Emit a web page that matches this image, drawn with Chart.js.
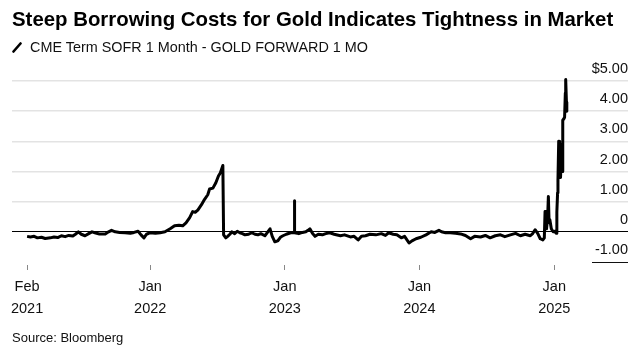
<!DOCTYPE html>
<html>
<head>
<meta charset="utf-8">
<script src="https://cdn.jsdelivr.net/npm/chart.js@4.4.1/dist/chart.umd.min.js"></script>
<style>
  html, body { margin: 0; padding: 0; background: #fff; }
  #wrap { position: relative; width: 644px; height: 362px; overflow: hidden; background: #fff; }
  #title { position: absolute; left: 12px; top: 9px; font: bold 20.4px "Liberation Sans", Arial, sans-serif; line-height: 20px; color: #000; white-space: nowrap; }
  #legend { position: absolute; left: 12px; top: 40px; font: 14.4px "Liberation Sans", Arial, sans-serif; line-height: 14px; color: #111; white-space: nowrap; }
  #legend svg { vertical-align: -1px; margin-right: 8px; }
  #source { position: absolute; left: 12px; top: 331px; font: 13px "Liberation Sans", Arial, sans-serif; line-height: 13px; color: #111; white-space: nowrap; }
  canvas { position: absolute; left: 0; top: 0; }
</style>
</head>
<body>
<div id="wrap">
  <canvas id="c" width="644" height="362"></canvas>
  <div id="title">Steep Borrowing Costs for Gold Indicates Tightness in Market</div>
  <div id="legend"><svg width="10" height="11" viewBox="0 0 10 11"><line x1="1.5" y1="9.5" x2="8.5" y2="1.5" stroke="#000" stroke-width="2.6" stroke-linecap="round"/></svg>CME Term SOFR 1 Month - GOLD FORWARD 1 MO</div>
  <div id="source">Source: Bloomberg</div>
</div>
<script>
// ---- data ----
const dates = [
  "2021-02-01","2021-02-10","2021-02-20","2021-03-01","2021-03-12","2021-03-22","2021-04-05","2021-04-15","2021-04-25",
  "2021-05-05","2021-05-15","2021-05-25","2021-06-05","2021-06-12","2021-06-20","2021-06-28","2021-07-08","2021-07-18",
  "2021-07-27","2021-08-06","2021-08-16","2021-09-01","2021-09-10","2021-09-18","2021-09-28","2021-10-10","2021-10-25",
  "2021-11-08","2021-11-18","2021-11-29","2021-12-07","2021-12-15","2021-12-22","2022-01-01","2022-01-15","2022-01-28",
  "2022-02-10","2022-02-24","2022-03-08","2022-03-20","2022-03-30","2022-04-08","2022-04-18","2022-04-26","2022-05-03",
  "2022-05-10","2022-05-20","2022-05-28","2022-06-06","2022-06-11","2022-06-20","2022-06-28","2022-07-05","2022-07-10",
  "2022-07-17","2022-07-19","2022-07-25","2022-07-30","2022-08-05","2022-08-10","2022-08-18","2022-08-25","2022-09-01",
  "2022-09-08","2022-09-15","2022-09-25","2022-10-03","2022-10-12","2022-10-20","2022-10-28","2022-11-08","2022-11-15",
  "2022-11-22","2022-11-28","2022-12-05","2022-12-13","2022-12-20","2022-12-27","2023-01-05","2023-01-17","2023-01-26",
  "2023-01-27","2023-01-28","2023-02-08","2023-02-18","2023-02-27","2023-03-05","2023-03-10","2023-03-17","2023-03-24",
  "2023-04-02","2023-04-13","2023-04-22","2023-05-03","2023-05-15","2023-06-01","2023-06-12","2023-06-28","2023-07-08",
  "2023-07-19","2023-07-28","2023-08-08","2023-08-20","2023-09-05","2023-09-20","2023-10-01","2023-10-10","2023-10-22",
  "2023-11-01","2023-11-13","2023-11-22","2023-12-04","2023-12-12","2023-12-23","2024-01-05","2024-01-19","2024-02-02",
  "2024-02-12","2024-02-23","2024-03-01","2024-03-12","2024-03-25","2024-04-08","2024-04-22","2024-05-05","2024-05-19",
  "2024-05-30","2024-06-15","2024-06-28","2024-07-11","2024-07-25","2024-08-08","2024-08-20","2024-09-04","2024-09-18",
  "2024-10-01","2024-10-14","2024-10-28","2024-11-04","2024-11-10","2024-11-17","2024-11-24","2024-12-01","2024-12-05",
  "2024-12-07","2024-12-09","2024-12-11","2024-12-14","2024-12-16","2024-12-18","2024-12-20","2024-12-24","2024-12-29",
  "2025-01-03","2025-01-06","2025-01-08","2025-01-10","2025-01-11","2025-01-13","2025-01-14","2025-01-15","2025-01-16",
  "2025-01-17","2025-01-18","2025-01-21","2025-01-22","2025-01-24","2025-01-27","2025-01-29","2025-01-31","2025-02-01",
  "2025-02-03","2025-02-04"
];
const spread = [
  -0.15,-0.17,-0.15,-0.20,-0.18,-0.22,-0.20,-0.17,-0.19,
  -0.13,-0.16,-0.12,-0.14,-0.08, 0.00,-0.08,-0.13,-0.06,
   0.00,-0.04,-0.07,-0.07, 0.00, 0.05, 0.00,-0.02,-0.03,
  -0.05,-0.02, 0.02,-0.10,-0.20,-0.08,-0.03,-0.05,-0.03,
   0.00, 0.10, 0.20, 0.22, 0.20, 0.30, 0.47, 0.67, 0.65,
   0.72, 0.90, 1.07, 1.23, 1.42, 1.45, 1.63, 1.85, 1.95,
   2.20,-0.10,-0.20,-0.15,-0.08, 0.00,-0.06, 0.02,-0.03,
  -0.06,-0.10,-0.08,-0.03,-0.08,-0.10,-0.06,-0.13,-0.02,
   0.10,-0.15,-0.33,-0.30,-0.18,-0.13,-0.08,-0.03,-0.03,
   1.03,-0.03,-0.06,-0.02, 0.00, 0.05, 0.10,-0.05,-0.15,
  -0.08,-0.10,-0.06,-0.03,-0.08,-0.13,-0.10,-0.17,-0.15,
  -0.27,-0.15,-0.13,-0.08,-0.10,-0.06,-0.12,-0.03,-0.08,
  -0.10,-0.20,-0.15,-0.37,-0.30,-0.23,-0.18,-0.10, 0.00,
  -0.02, 0.05, 0.00,-0.03,-0.03,-0.05,-0.07,-0.12,-0.23,
  -0.15,-0.17,-0.12,-0.20,-0.13,-0.10,-0.16,-0.10,-0.05,
  -0.13,-0.08,-0.13,-0.05, 0.07,-0.05,-0.23,-0.27,-0.20,
   0.67, 0.35, 0.10, 0.50, 1.17, 0.30, 0.40, 0.10, 0.00,
   0.02,-0.05, 0.65, 1.30, 1.70, 3.00, 2.60, 3.00, 2.20,
   2.90, 1.80, 2.90, 2.00, 3.70, 3.75, 3.80, 4.60, 5.05,
   4.30, 4.00
];
const xTickDates  = ["2021-02-01","2022-01-01","2023-01-01","2024-01-01","2025-01-01"];
const xTickMonths = ["Feb","Jan","Jan","Jan","Jan"];
const xTickYears  = ["2021","2022","2023","2024","2025"];
const yTickValues = [-1, 0, 1, 2, 3, 4, 5];
const yTickLabels = ["-1.00","0","1.00","2.00","3.00","4.00","$5.00"];

// ---- chart ----
const points = dates.map((d, i) => ({ x: Date.parse(d), y: spread[i] }));
const FONT = '"Liberation Sans", Arial, sans-serif';

const bottomRule = {
  id: 'bottomRule',
  afterDraw(chart) {
    const ctx = chart.ctx, y = chart.scales.y, area = chart.chartArea;
    const py = Math.round(y.getPixelForValue(-1)) + 0.5;
    ctx.save();
    ctx.strokeStyle = '#111';
    ctx.lineWidth = 1;
    ctx.beginPath();
    ctx.moveTo(area.right - 36, py);
    ctx.lineTo(area.right, py);
    ctx.stroke();
    ctx.restore();
  }
};

new Chart(document.getElementById('c'), {
  type: 'line',
  data: {
    datasets: [{
      label: 'CME Term SOFR 1 Month - GOLD FORWARD 1 MO',
      data: points,
      borderColor: '#000',
      borderWidth: 3,
      pointRadius: 0,
      tension: 0,
      clip: false,
      borderJoinStyle: 'round'
    }]
  },
  options: {
    responsive: false,
    animation: false,
    layout: { padding: { left: 12, right: 16, top: 72, bottom: 37 } },
    plugins: { legend: { display: false }, title: { display: false }, tooltip: { enabled: false } },
    scales: {
      x: {
        type: 'linear',
        min: Date.parse('2020-12-22'),
        max: Date.parse('2025-07-20'),
        afterBuildTicks(s) { s.ticks = xTickDates.map(d => ({ value: Date.parse(d) })); },
        afterFit(s) { s.height = 60; },
        border: { display: false },
        grid: { drawOnChartArea: false, drawTicks: true, tickLength: 5, color: '#888', lineWidth: 1 },
        ticks: {
          autoSkip: false, maxRotation: 0, padding: 6, color: '#111',
          font: { family: FONT, size: 14.5, lineHeight: '22px' },
          callback(v, i) { return [xTickMonths[i], xTickYears[i]]; }
        }
      },
      y: {
        position: 'right',
        min: -1.1,
        max: 5.3,
        afterBuildTicks(s) { s.ticks = yTickValues.map(v => ({ value: v })); },
        afterFit(s) { s.width = 0; },
        border: { display: false },
        grid: {
          drawTicks: false,
          color(ctx) { const v = ctx.tick && ctx.tick.value; return v === 0 ? '#000' : (v === -1 ? 'rgba(0,0,0,0)' : '#e3e3e3'); },
          lineWidth(ctx) { const v = ctx.tick && ctx.tick.value; return v === 0 ? 1 : 1.5; }
        },
        ticks: {
          mirror: true, padding: 0, labelOffset: -12, color: '#111',
          font: { family: FONT, size: 14.5 },
          callback(v) { const i = yTickValues.indexOf(v); return i >= 0 ? yTickLabels[i] : ''; }
        }
      }
    }
  },
  plugins: [bottomRule]
});
</script>
</body>
</html>
